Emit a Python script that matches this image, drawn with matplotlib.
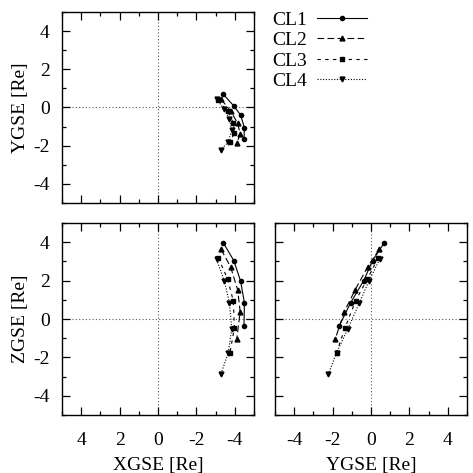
import matplotlib
matplotlib.use("Agg")
import matplotlib.pyplot as plt

plt.rcParams["font.family"] = ["Liberation Serif", "DejaVu Serif"]
plt.rcParams["font.size"] = 14
plt.rcParams["axes.unicode_minus"] = False

# Cluster spacecraft positions (GSE, Earth radii)
cl1_x = [-3.40, -3.95, -4.30, -4.50, -4.48]
cl1_y = [0.69, 0.08, -0.39, -1.06, -1.65]
cl1_z = [3.97, 3.04, 1.98, 0.85, -0.35]

cl2_x = [-3.28, -3.78, -4.15, -4.28, -4.10]
cl2_y = [0.43, -0.17, -0.83, -1.39, -1.87]
cl2_z = [3.63, 2.72, 1.51, 0.38, -1.06]

cl3_x = [-3.14, -3.63, -3.92, -3.98, -3.75]
cl3_y = [0.38, -0.20, -0.80, -1.35, -1.79]
cl3_z = [3.19, 2.07, 0.95, -0.45, -1.75]

cl4_x = [-3.05, -3.45, -3.72, -3.84, -3.66, -3.28]
cl4_y = [0.45, -0.10, -0.60, -1.20, -1.79, -2.22]
cl4_z = [3.10, 2.00, 0.85, -0.50, -1.75, -2.86]

labels = ["CL1", "CL2", "CL3", "CL4"]
ticks = [4, 2, 0, -2, -4]

styles = [
    dict(ls="-", marker="o", ms=3),
    dict(ls=(0, (6, 3)), marker="^", ms=3.5),
    dict(ls=(0, (3, 4)), marker="s", ms=2.8),
    dict(ls=(0, (1, 1.5)), marker="v", ms=3.5),
]

sc = [(cl1_x, cl1_y, cl1_z), (cl2_x, cl2_y, cl2_z),
      (cl3_x, cl3_y, cl3_z), (cl4_x, cl4_y, cl4_z)]

fig = plt.figure(figsize=(4.73, 4.73), dpi=100)
W = 473
ax_xy = fig.add_axes([62 / W, 1 - 203 / W, 192 / W, 191 / W])
ax_xz = fig.add_axes([62 / W, 1 - 415 / W, 192 / W, 192 / W])
ax_yz = fig.add_axes([275 / W, 1 - 415 / W, 192 / W, 192 / W])


def setup(ax, reverse_x):
    if reverse_x:
        ax.set_xlim(5, -5)
    else:
        ax.set_xlim(-5, 5)
    ax.set_ylim(-5, 5)
    ax.set_xticks(ticks)
    ax.set_yticks(ticks)
    ax.set_xticks([5, 3, 1, -1, -3, -5], minor=True)
    ax.set_yticks([5, 3, 1, -1, -3, -5], minor=True)
    ax.tick_params(which="both", direction="in", top=True, right=True, width=0.9)
    ax.tick_params(which="major", length=6)
    ax.tick_params(which="minor", length=3)
    ax.tick_params(axis="x", pad=12)
    ax.tick_params(axis="y", pad=9)
    for s in ax.spines.values():
        s.set_linewidth(1.0)
    ax.axhline(0, color="0.35", ls=(0, (1, 2)), lw=0.8, zorder=1)
    ax.axvline(0, color="0.35", ls=(0, (1, 2)), lw=0.8, zorder=1)


setup(ax_xy, True)
setup(ax_xz, True)
setup(ax_yz, False)

for (x, y, z), lab, st in zip(sc, labels, styles):
    ax_xy.plot(x, y, color="black", lw=0.8, label=lab, **st)
    ax_xz.plot(x, z, color="black", lw=0.8, **st)
    ax_yz.plot(y, z, color="black", lw=0.8, **st)

ax_xy.tick_params(axis="x", labelbottom=False)
ax_yz.tick_params(axis="y", labelleft=False)

ax_xy.set_ylabel("YGSE [Re]", labelpad=3)
ax_xz.set_ylabel("ZGSE [Re]", labelpad=3)
ax_xz.set_xlabel("XGSE [Re]", labelpad=6)
ax_yz.set_xlabel("YGSE [Re]", labelpad=6)

ax_xy.legend(loc="upper left", bbox_to_anchor=(272 / W, 1 - 11 / W),
             bbox_transform=fig.transFigure, frameon=False, markerfirst=False,
             numpoints=1, handlelength=2.6, handletextpad=0.5,
             labelspacing=0.15, borderpad=0, borderaxespad=0)

fig.savefig("out.png", dpi=100)
